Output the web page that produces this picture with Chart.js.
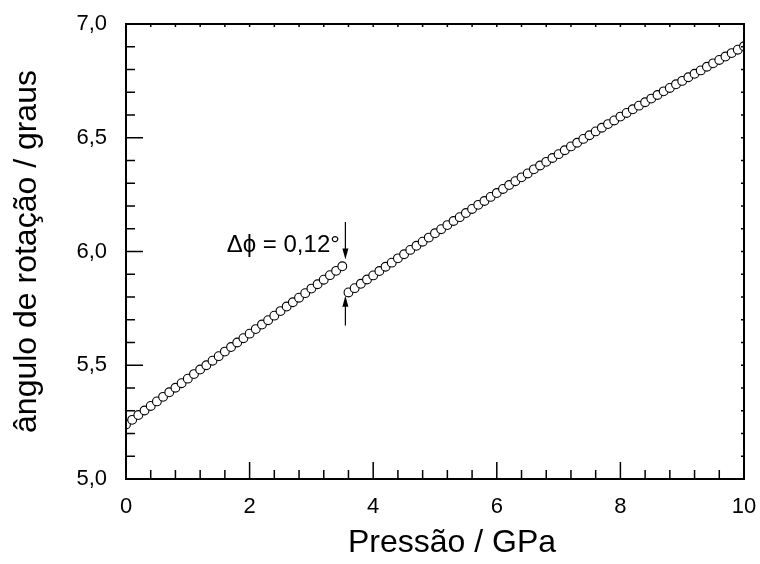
<!DOCTYPE html>
<html>
<head>
<meta charset="utf-8">
<script src="https://cdn.jsdelivr.net/npm/chart.js@4.4.1/dist/chart.umd.min.js"></script>
<style>
  html, body { margin: 0; padding: 0; background: #fff; }
</style>
</head>
<body>
<canvas id="rotacao" width="760" height="564"></canvas>
<script>
// pressao (GPa) e angulo de rotacao (graus)
let pressure1 = [0.0, 0.1, 0.2, 0.3, 0.4, 0.5, 0.6, 0.7, 0.8, 0.9, 1.0, 1.1, 1.2, 1.3, 1.4, 1.5, 1.6, 1.7,
  1.8, 1.9, 2.0, 2.1, 2.2, 2.3, 2.4, 2.5, 2.6, 2.7, 2.8, 2.9, 3.0, 3.1, 3.2, 3.3, 3.4, 3.5];
let angle1 = [5.240, 5.260, 5.281, 5.301, 5.321, 5.341, 5.361, 5.381, 5.401, 5.421, 5.441, 5.461,
  5.481, 5.500, 5.520, 5.540, 5.560, 5.580, 5.600, 5.619, 5.639, 5.659, 5.679, 5.698,
  5.718, 5.738, 5.758, 5.777, 5.797, 5.817, 5.837, 5.856, 5.876, 5.896, 5.915, 5.935];

let pressure2 = [3.6, 3.7, 3.8, 3.9, 4.0, 4.1, 4.2, 4.3, 4.4, 4.5, 4.6, 4.7, 4.8, 4.9, 5.0, 5.1, 5.2,
  5.3, 5.4, 5.5, 5.6, 5.7, 5.8, 5.9, 6.0, 6.1, 6.2, 6.3, 6.4, 6.5, 6.6, 6.7, 6.8, 6.9, 7.0, 7.1,
  7.2, 7.3, 7.4, 7.5, 7.6, 7.7, 7.8, 7.9, 8.0, 8.1, 8.2, 8.3, 8.4, 8.5, 8.6, 8.7, 8.8, 8.9, 9.0,
  9.1, 9.2, 9.3, 9.4, 9.5, 9.6, 9.7, 9.8, 9.9, 10.0];
let angle2 = [5.820, 5.839, 5.858, 5.877, 5.895, 5.914, 5.933, 5.951, 5.970, 5.988, 6.007, 6.025,
  6.043, 6.061, 6.080, 6.098, 6.116, 6.134, 6.151, 6.169, 6.187, 6.205, 6.222, 6.240,
  6.257, 6.275, 6.292, 6.309, 6.326, 6.343, 6.361, 6.378, 6.394, 6.411, 6.428, 6.445,
  6.462, 6.478, 6.495, 6.511, 6.528, 6.544, 6.560, 6.576, 6.593, 6.609, 6.625, 6.641,
  6.656, 6.672, 6.688, 6.704, 6.719, 6.735, 6.750, 6.766, 6.781, 6.796, 6.812, 6.827,
  6.842, 6.857, 6.872, 6.887, 6.902];

let xTicks = [0, 2, 4, 6, 8, 10];
let yTicks = [5.0, 5.5, 6.0, 6.5, 7.0];

// anotacao do salto
let noteText = "Δϕ = 0,12°";
let noteAt = [3.46, 6.0];
let arrowX = 3.55;
let arrowDown = [6.13, 5.965];
let arrowUp = [5.675, 5.805];

let xTitle = "Pressão / GPa";
let yTitle = "ângulo de rotação / graus";

const FONT = "'Liberation Sans', Arial, sans-serif";

function toPoints(xs, ys) {
  return xs.map((v, i) => ({ x: v, y: ys[i] }));
}

function minorsOf(major, parts) {
  let out = [];
  for (let i = 0; i < major.length - 1; i++) {
    let step = (major[i + 1] - major[i]) / parts;
    for (let k = 1; k < parts; k++) out.push(major[i] + k * step);
  }
  return out;
}

function arrow(ctx, px, y0, y1) {
  let dir = y1 > y0 ? 1 : -1;
  ctx.beginPath();
  ctx.moveTo(px, y0);
  ctx.lineTo(px, y1 - dir * 8);
  ctx.stroke();
  ctx.beginPath();
  ctx.moveTo(px, y1);
  ctx.lineTo(px - 3, y1 - dir * 11);
  ctx.lineTo(px + 3, y1 - dir * 11);
  ctx.closePath();
  ctx.fill();
}

const frameTicks = {
  id: "frameTicks",
  afterDatasetsDraw(chart) {
    const { ctx, chartArea: a, scales: { x, y } } = chart;
    ctx.save();
    ctx.strokeStyle = "#000";
    ctx.fillStyle = "#000";
    ctx.lineWidth = 1.5;
    ctx.beginPath();
    minorsOf(xTicks, 5).forEach(v => {
      let px = x.getPixelForValue(v);
      ctx.moveTo(px, a.bottom); ctx.lineTo(px, a.bottom - 9);
      ctx.moveTo(px, a.top); ctx.lineTo(px, a.top + 3);
    });
    xTicks.forEach(v => {
      let px = x.getPixelForValue(v);
      ctx.moveTo(px, a.bottom); ctx.lineTo(px, a.bottom - 17);
      ctx.moveTo(px, a.top); ctx.lineTo(px, a.top + 3);
    });
    minorsOf(yTicks, 5).forEach(v => {
      let py = y.getPixelForValue(v);
      ctx.moveTo(a.left, py); ctx.lineTo(a.left + 9, py);
      ctx.moveTo(a.right, py); ctx.lineTo(a.right - 3, py);
    });
    yTicks.forEach(v => {
      let py = y.getPixelForValue(v);
      ctx.moveTo(a.left, py); ctx.lineTo(a.left + 17, py);
      ctx.moveTo(a.right, py); ctx.lineTo(a.right - 3, py);
    });
    ctx.stroke();

    ctx.lineWidth = 2;
    ctx.strokeRect(a.left, a.top, a.right - a.left, a.bottom - a.top);

    // setas e texto
    ctx.lineWidth = 1.2;
    let ax = x.getPixelForValue(arrowX);
    arrow(ctx, ax, y.getPixelForValue(arrowDown[0]), y.getPixelForValue(arrowDown[1]));
    arrow(ctx, ax, y.getPixelForValue(arrowUp[0]), y.getPixelForValue(arrowUp[1]));
    ctx.font = "24px " + FONT;
    ctx.textAlign = "right";
    ctx.textBaseline = "alphabetic";
    ctx.fillText(noteText, x.getPixelForValue(noteAt[0]), y.getPixelForValue(noteAt[1]));

    // titulo do eixo x
    ctx.font = "32px " + FONT;
    ctx.textAlign = "center";
    ctx.fillText(xTitle, 452, 552);
    ctx.restore();
  }
};

let ctx = document.getElementById("rotacao").getContext("2d");
let graph = new Chart(ctx, {
  type: "scatter",
  data: {
    datasets: [
      {
        data: toPoints(pressure1, angle1),
        pointRadius: 4.4,
        pointBorderWidth: 1.1,
        pointBackgroundColor: "#fff",
        pointBorderColor: "#000",
        showLine: false,
        clip: 0
      },
      {
        data: toPoints(pressure2, angle2),
        pointRadius: 4.4,
        pointBorderWidth: 1.1,
        pointBackgroundColor: "#fff",
        pointBorderColor: "#000",
        showLine: false,
        clip: 0
      }
    ]
  },
  options: {
    responsive: false,
    animation: false,
    layout: { autoPadding: false, padding: { left: 0, top: 24, right: 16, bottom: 0 } },
    plugins: { legend: { display: false }, tooltip: { enabled: false } },
    scales: {
      x: {
        type: "linear",
        min: 0,
        max: 10,
        grid: { display: false, drawTicks: false },
        border: { display: false },
        afterBuildTicks: s => { s.ticks = xTicks.map(v => ({ value: v })); },
        afterFit: s => { s.height = 85; s.paddingLeft = 0; s.paddingRight = 0; },
        ticks: {
          padding: 15,
          color: "#000",
          font: { family: FONT, size: 22 },
          callback: v => String(v)
        },
        title: { display: false }
      },
      y: {
        type: "linear",
        min: 5,
        max: 7,
        grid: { display: false, drawTicks: false },
        border: { display: false },
        afterBuildTicks: s => { s.ticks = yTicks.map(v => ({ value: v })); },
        afterFit: s => { s.width = 126; s.paddingTop = 0; s.paddingBottom = 0; },
        ticks: {
          padding: 19,
          color: "#000",
          font: { family: FONT, size: 22 },
          callback: v => v.toFixed(1).replace(".", ",")
        },
        title: {
          display: true,
          text: yTitle,
          color: "#000",
          font: { family: FONT, size: 32 },
          padding: { top: 8, bottom: 0 }
        }
      }
    }
  },
  plugins: [frameTicks]
});
</script>
</body>
</html>
